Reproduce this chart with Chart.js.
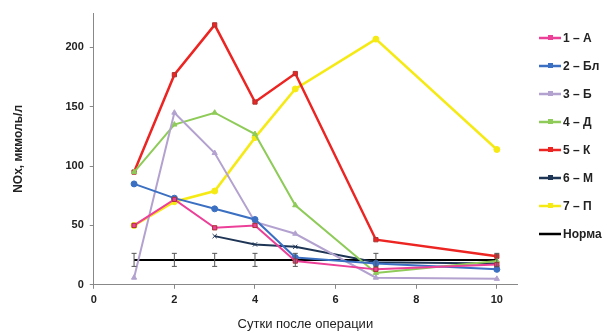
<!DOCTYPE html>
<html>
<head>
<meta charset="utf-8">
<script src="https://cdn.jsdelivr.net/npm/chart.js@4"></script>
<style>
  body { margin: 0; background: #fff; }
  #wrap { position: relative; width: 608px; height: 333px; }
  #legend { position: absolute; left: 539px; top: 24px; font: bold 12px "Liberation Sans", Arial, sans-serif; color: #222; }
  .item { display: flex; align-items: center; height: 28px; }
  .item canvas { margin-right: 2px; }
</style>
</head>
<body>
<div id="wrap">
  <canvas id="chart" width="608" height="333"></canvas>
  <div id="legend"></div>
</div>
<script>
// Day values and series
const days = [1, 2, 3, 4, 5, 7, 10];
const seriesA  = [50, 72, 48, 50, 20, 13, 17];
const seriesBl = [85, 73, 64, 55, 23, 18, 13];
const seriesB  = [6, 145, 111, 53, 43, 6, 5];
const seriesD  = [95, 135, 145, 127, 67, 10, 20];
const seriesK  = [95, 177, 219, 154, 178, 38, 24];
const seriesM  = [null, null, 41, 34, 32, 19, 18];
const seriesP  = [50, 70, 79, 124, 165, 207, 114];
const norm     = [21, 21, 21, 21, 21, 21, 21];
const normErr  = [5.5, 5.5, 5.5, 5.5, 5.5, 5.5, 5.5];

const xTicks = [0, 2, 4, 6, 8, 10];
const yTicks = [0, 50, 100, 150, 200];

const seriesInfo = [
    { label: '1 – А',  data: seriesA,  color: '#ec3f98', point: 'rect',     width: 2 },
    { label: '2 – Бл', data: seriesBl, color: '#3a6fc2', point: 'circle',   width: 2 },
    { label: '3 – Б',  data: seriesB,  color: '#b3a2cf', point: 'triangle', width: 2 },
    { label: '4 – Д',  data: seriesD,  color: '#8ecb58', point: 'triangle', width: 2 },
    { label: '5 – К',  data: seriesK,  color: '#ec2522', point: 'rect',     width: 2.5 },
    { label: '6 – М',  data: seriesM,  color: '#1e3556', point: 'crossRot', width: 2 },
    { label: '7 – П',  data: seriesP,  color: '#f6ea14', point: 'circle',   width: 2.5 },
    { label: 'Норма',  data: norm,     color: '#000000', point: false,      width: 2 }
];

const datasets = seriesInfo.map(s => ({
    label: s.label,
    data: days.map((d, i) => ({ x: d, y: s.data[i] })),
    borderColor: s.color,
    backgroundColor: s.color,
    borderWidth: s.width,
    pointStyle: s.point,
    pointRadius: s.point ? 3 : 0,
    pointBorderColor: s.point === 'rect' ? '#a33' : s.color,
    pointBorderWidth: 1,
    tension: 0,
    spanGaps: false
}));

// error bars for the norm series
const errorBars = {
    id: 'errorBars',
    afterDatasetsDraw(chart) {
        const ctx = chart.ctx;
        const xs = chart.scales.x, ys = chart.scales.y;
        ctx.save();
        ctx.strokeStyle = '#555';
        ctx.lineWidth = 1;
        days.forEach((d, i) => {
            const px = xs.getPixelForValue(d);
            const top = ys.getPixelForValue(norm[i] + normErr[i]);
            const bot = ys.getPixelForValue(norm[i] - normErr[i]);
            ctx.beginPath();
            ctx.moveTo(px, top); ctx.lineTo(px, bot);
            ctx.moveTo(px - 2.5, top); ctx.lineTo(px + 2.5, top);
            ctx.moveTo(px - 2.5, bot); ctx.lineTo(px + 2.5, bot);
            ctx.stroke();
        });
        ctx.restore();
    }
};

const tickFont = { family: '"Liberation Sans", Arial, sans-serif', size: 11, weight: 'bold' };

new Chart(document.getElementById('chart'), {
    type: 'line',
    data: { datasets },
    options: {
        responsive: false,
        animation: false,
        layout: { padding: { left: 11, right: 91, top: 13, bottom: 2 } },
        plugins: { legend: { display: false }, tooltip: { enabled: false } },
        scales: {
            x: {
                type: 'linear', min: 0, max: 10.5,
                afterBuildTicks: s => { s.ticks = xTicks.map(v => ({ value: v })); },
                grid: { drawOnChartArea: false, tickLength: 4, color: '#888' },
                border: { color: '#888' },
                ticks: { font: tickFont, color: '#222', padding: 5 },
                title: { display: true, text: 'Сутки после операции', color: '#222',
                         font: { family: '"Liberation Sans", Arial, sans-serif', size: 13, lineHeight: 1 },
                         padding: { top: 6, bottom: 0 } }
            },
            y: {
                min: 0, max: 229,
                afterBuildTicks: s => { s.ticks = yTicks.map(v => ({ value: v })); },
                grid: { drawOnChartArea: false, tickLength: 4, color: '#888' },
                border: { color: '#888' },
                ticks: { font: tickFont, color: '#222', padding: 6 },
                title: { display: true, text: 'NOx, мкмоль/л', color: '#222',
                         font: { family: '"Liberation Sans", Arial, sans-serif', size: 12, weight: 'bold' },
                         padding: { top: 0, bottom: 34 } }
            }
        }
    },
    plugins: [errorBars]
});

// legend
const legend = document.getElementById('legend');
seriesInfo.forEach(s => {
    const item = document.createElement('div');
    item.className = 'item';
    const c = document.createElement('canvas');
    c.width = 22; c.height = 10;
    const g = c.getContext('2d');
    g.strokeStyle = s.color; g.lineWidth = 2.5;
    g.beginPath(); g.moveTo(0, 5); g.lineTo(22, 5); g.stroke();
    if (s.point) {
        g.fillStyle = s.color;
        g.fillRect(9, 2, 5, 5);
    }
    item.appendChild(c);
    const t = document.createElement('span');
    t.textContent = s.label;
    item.appendChild(t);
    legend.appendChild(item);
});
</script>
</body>
</html>
